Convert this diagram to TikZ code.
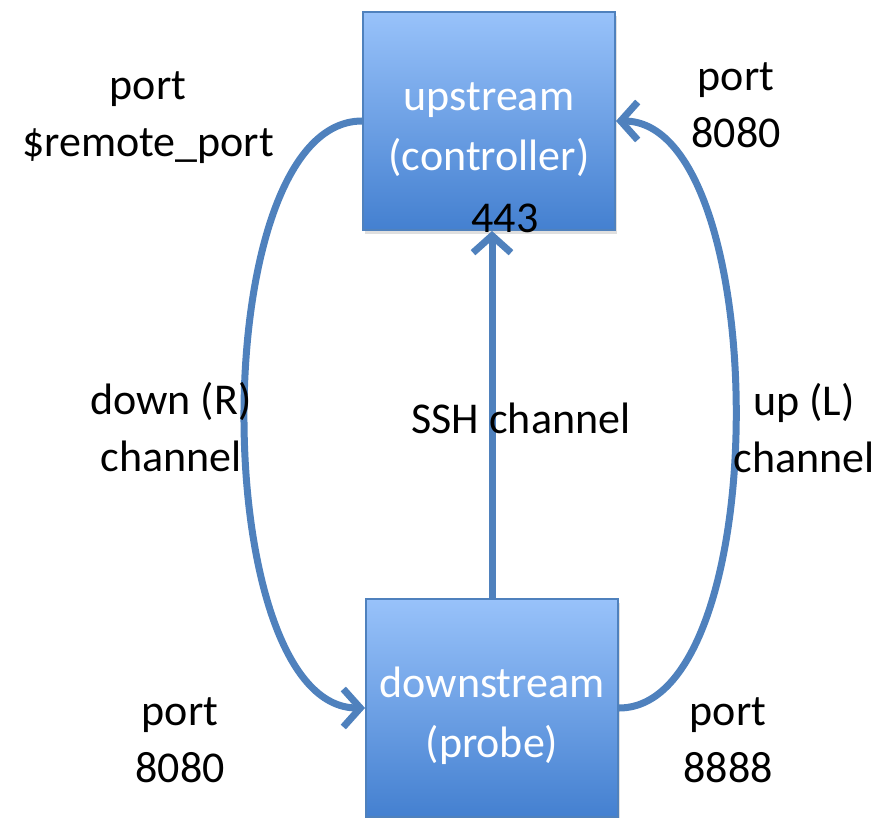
\documentclass[tikz,border=0pt]{standalone}
\usepackage{fontspec}
\setmainfont{Carlito}
\usetikzlibrary{arrows.meta,shadows}
\definecolor{tunnelblue}{RGB}{79,129,189}
\definecolor{boxtop}{RGB}{152,194,250}
\definecolor{boxbottom}{RGB}{68,128,208}
\newcommand{\hoststrut}{\rule{0pt}{46pt}}
\tikzset{
  hostbox/.style={draw=tunnelblue, line width=2pt, top color=boxtop, bottom color=boxbottom,
    minimum width=252pt, minimum height=218pt, align=center, text=white,
    font=\fontsize{44}{60}\selectfont,
    drop shadow={opacity=0.25, shadow xshift=2pt, shadow yshift=-4pt}},
  txt/.style={align=center, font=\fontsize{44}{57}\selectfont},
  tunnel/.style={draw=tunnelblue, line width=7pt, -{Straight Barb[length=17pt,width=38pt]}}
}
\begin{document}
\begin{tikzpicture}[x=1pt, y=-1pt]
\useasboundingbox (0,0) rectangle (880,818);

% Hosts
\node[hostbox] (up) at (489,121) {\hoststrut upstream\\(controller)};
\node[hostbox] (down) at (492,708) {\hoststrut downstream\\(probe)};
\node[txt] (sshport) at (505,218) {443};

% Tunnels
\draw[tunnel] (down.north) -- (down.north |- up.south);
\draw[tunnel] (up.west) .. controls +(-158,0) and +(-158,0) .. (down.west);
\draw[tunnel] (down.east) .. controls +(157,0) and +(157,0) .. (up.east);

% Ports
\node[txt] (remport) at (148,118) {port\\\$remote\_port};
\node[txt] (upport) at (736,105) {port\\8080};
\node[txt] (localport) at (180,740) {port\\8080};
\node[txt] (probeport) at (728,740) {port\\8888};

% Channels
\node[txt] (rchan) at (171,427) {down (R)\\channel};
\node[txt] (sshchan) at (521,418) {SSH channel};
\node[txt] (lchan) at (804,428) {up (L)\\channel};
\end{tikzpicture}
\end{document}
